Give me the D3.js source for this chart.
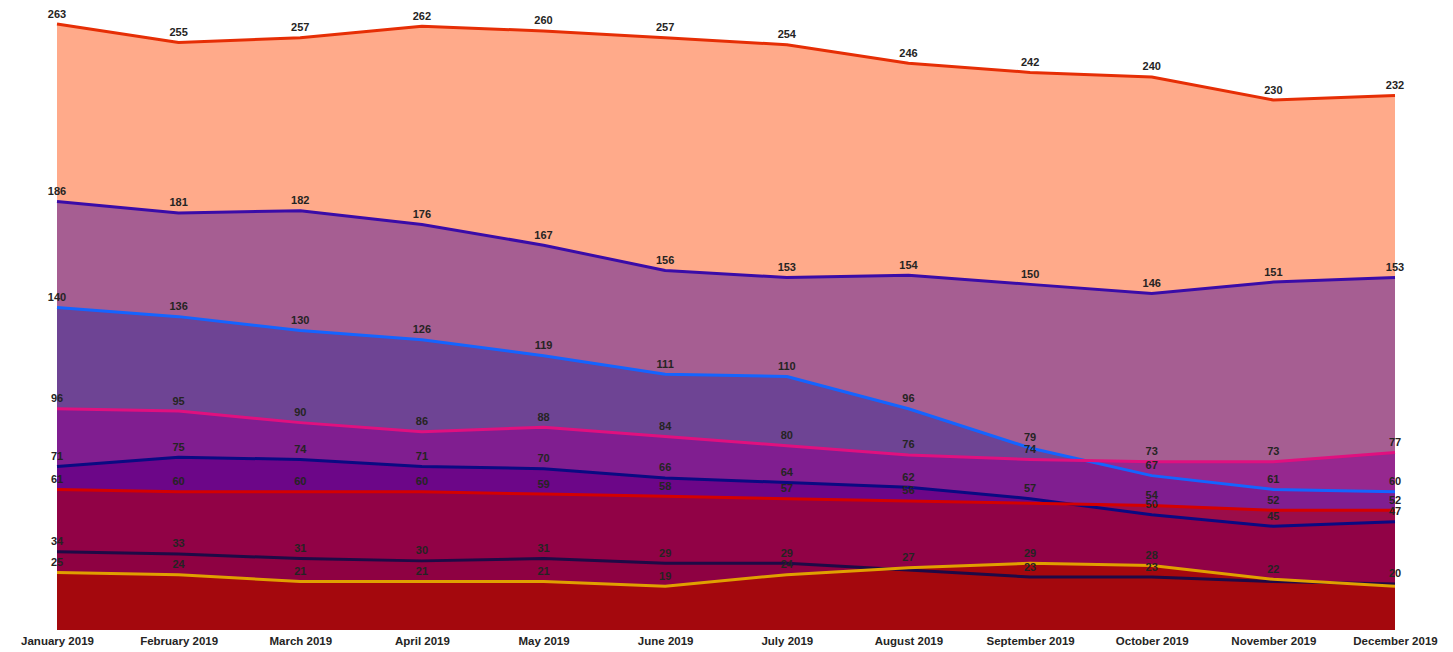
<!DOCTYPE html>
<html>
<head>
<meta charset="utf-8">
<script src="https://cdn.jsdelivr.net/npm/d3@7"></script>
<style>
  html, body { margin: 0; padding: 0; background: #ffffff; }
  svg { display: block; }
  .value-label { font-family: "Liberation Sans", Arial, sans-serif; font-weight: bold; font-size: 11px; fill: #252423; }
  .axis text { font-family: "Liberation Sans", Arial, sans-serif; font-weight: bold; font-size: 11.5px; fill: #252423; }
</style>
</head>
<body>
<svg id="chart" width="1453" height="652"></svg>
<script>
// Months on the x axis
const months = ["January 2019", "February 2019", "March 2019", "April 2019", "May 2019", "June 2019",
                "July 2019", "August 2019", "September 2019", "October 2019", "November 2019", "December 2019"];

// Monthly values per series, back layer first
const seriesA = [263, 255, 257, 262, 260, 257, 254, 246, 242, 240, 230, 232];
const seriesB = [186, 181, 182, 176, 167, 156, 153, 154, 150, 146, 151, 153];
const seriesC = [140, 136, 130, 126, 119, 111, 110, 96, 79, 67, 61, 60];
const seriesD = [96, 95, 90, 86, 88, 84, 80, 76, 74, 73, 73, 77];
const seriesE = [71, 75, 74, 71, 70, 66, 64, 62, 57, 50, 45, 47];
const seriesF = [61, 60, 60, 60, 59, 58, 57, 56, 55, 54, 52, 52];
const seriesG = [34, 33, 31, 30, 31, 29, 29, 26, 23, 23, 21, 20];
const seriesH = [25, 24, 21, 21, 21, 19, 24, 27, 29, 28, 22, 19];

// Overlapping (unstacked) layers: translucent fill + solid line
const layers = [
  { values: seriesA, fill: "rgb(255,85,21)",  opacity: 0.5,  line: "#E62E05" },
  { values: seriesB, fill: "rgb(77,18,154)",  opacity: 0.5,  line: "#3A0CA8" },
  { values: seriesC, fill: "rgb(54,42,150)",  opacity: 0.5,  line: "#1464FF" },
  { values: seriesD, fill: "rgb(140,5,141)",  opacity: 0.6,  line: "#E0107F" },
  { values: seriesE, fill: "rgb(103,0,134)",  opacity: 0.8,  line: "#0A0A82" },
  { values: seriesF, fill: "rgb(177,0,16)",   opacity: 0.55, line: "#D40000" },
  { values: seriesG, fill: "rgb(140,0,62)",   opacity: 0.5,  line: "#1E0A46" },
  { values: seriesH, fill: "rgb(170,10,0)",   opacity: 0.8,  line: "#E0A000" }
];

const svg = d3.select("#chart");
const margin = { left: 57, right: 58, top: 24, bottom: 22 };
const width = 1453, height = 652;
const plotBottom = height - margin.bottom; // 630

const x = d3.scalePoint().domain(months).range([margin.left, width - margin.right]);
const y = d3.scaleLinear().domain([0, 263]).range([plotBottom, margin.top]);

const area = d3.area()
  .x((d, i) => x(months[i]))
  .y0(y(0))
  .y1(d => y(d));

const line = d3.line()
  .x((d, i) => x(months[i]))
  .y(d => y(d));

const gAreas = svg.append("g");
layers.forEach(l => {
  gAreas.append("path")
    .datum(l.values)
    .attr("d", area)
    .attr("fill", l.fill)
    .attr("fill-opacity", l.opacity);
});

const gLines = svg.append("g");
layers.forEach(l => {
  gLines.append("path")
    .datum(l.values)
    .attr("d", line)
    .attr("fill", "none")
    .attr("stroke", l.line)
    .attr("stroke-width", 3)
    .attr("stroke-linejoin", "round");
});

// Data labels: higher value wins when two labels collide at the same month
const gLabels = svg.append("g");
months.forEach((m, i) => {
  const pts = layers.map(l => ({ v: l.values[i], py: y(l.values[i]) }))
    .sort((a, b) => b.v - a.v);
  const placed = [];
  pts.forEach(p => {
    if (placed.some(q => Math.abs(q - p.py) < 8)) return;
    placed.push(p.py);
    gLabels.append("text")
      .attr("class", "value-label")
      .attr("x", x(m))
      .attr("y", p.py - 6.5)
      .attr("text-anchor", "middle")
      .text(p.v);
  });
});

// X axis (labels only)
const xAxis = svg.append("g")
  .attr("class", "axis")
  .attr("transform", `translate(0,${plotBottom})`)
  .call(d3.axisBottom(x).tickSize(0).tickPadding(7));
xAxis.select(".domain").remove();
</script>
</body>
</html>
